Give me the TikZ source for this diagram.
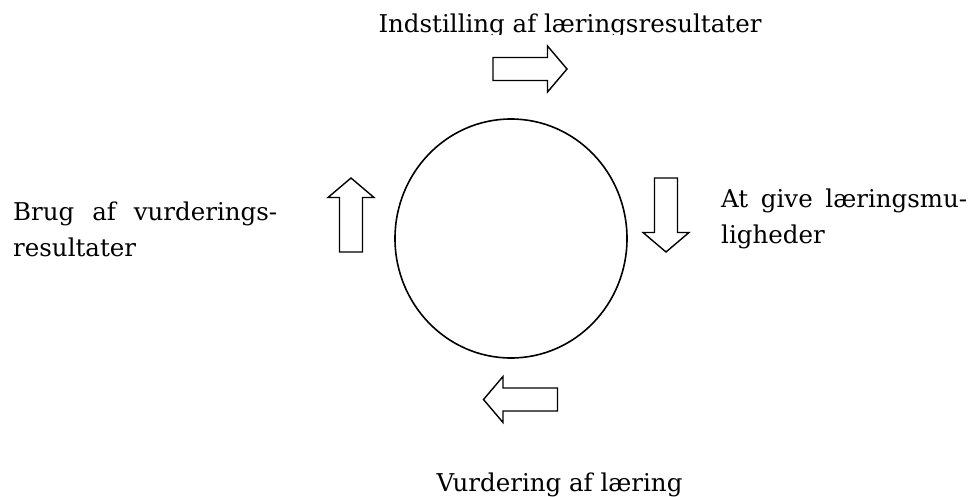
\documentclass[tikz,border=0pt]{standalone}
\usepackage{fontspec}
\setmainfont{DejaVu Serif}
\usetikzlibrary{shapes.geometric}
\tikzset{ring/.style={draw,ellipse,line width=1.6pt,inner sep=0pt},
 blockarrow/.pic={\draw[line width=1.4pt,line join=miter,fill=white] (-37,-11.5)--(17.5,-11.5)--(17.5,-23)--(37,0)--(17.5,23)--(17.5,11.5)--(-37,11.5)--cycle;},
 txt/.style={inner sep=0pt,font=\fontsize{24.5}{35.5}\selectfont}}

\begin{document}
\begin{tikzpicture}[x=1pt,y=-1pt]
\useasboundingbox (0,0) rectangle (979,497);
\node[ring,minimum width=232,minimum height=239] (cycle) at (511,238.5) {};

\pic (arrowtop) at (530,69) {blockarrow};
\pic[rotate=-90] (arrowright) at (666,215) {blockarrow};
\pic[rotate=180] (arrowbottom) at (520.5,399.5) {blockarrow};
\pic[rotate=90] (arrowleft) at (351,215) {blockarrow};

\begin{scope}
\clip (0,0) rectangle (979,34.5);
\node[txt,anchor=base] (settext) at (570,33) {Indstilling af læringsresultater};
\end{scope}
% base anchor of a two-line node sits on its last line
\node[txt,anchor=base west,align=left] (givetext) at (721,243) {\makebox[246pt][s]{At give læringsmu-}\\ligheder};
\node[txt,anchor=base] (assesstext) at (559.5,491) {Vurdering af læring};
\node[txt,anchor=base west,align=left] (usetext) at (13,256) {\makebox[264pt][s]{Brug af vurderings-}\\resultater};
\end{tikzpicture}
\end{document}
